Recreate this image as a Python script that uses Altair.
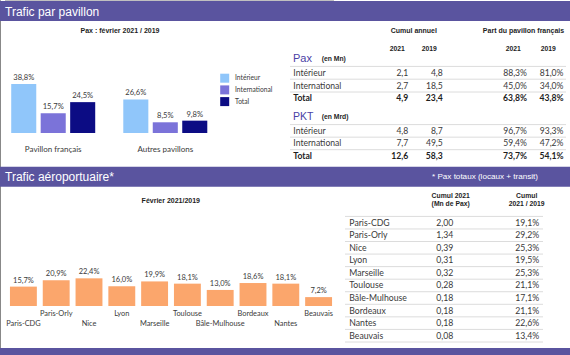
import altair as alt
import pandas as pd

# ---------------- data ----------------
pav_groups = ["Pavillon français", "Autres pavillons"]
pav_types = ["Intérieur", "International", "Total"]
pav_francais = [38.8, 15.7, 24.5]
pav_autres = [26.6, 8.5, 9.8]

tbl_rows = ["Intérieur", "International", "Total"]
pax_2021 = [2.1, 2.7, 4.9]
pax_2019 = [4.8, 18.5, 23.4]
pax_part_2021 = [88.3, 45.0, 63.8]
pax_part_2019 = [81.0, 34.0, 43.8]
pkt_2021 = [4.8, 7.7, 12.6]
pkt_2019 = [8.7, 49.5, 58.3]
pkt_part_2021 = [96.7, 59.4, 73.7]
pkt_part_2019 = [93.3, 47.2, 54.1]

airports = ["Paris-CDG", "Paris-Orly", "Nice", "Lyon", "Marseille", "Toulouse",
            "Bâle-Mulhouse", "Bordeaux", "Nantes", "Beauvais"]
fev_ratio = [15.7, 20.9, 22.4, 16.0, 19.9, 18.1, 13.0, 18.6, 18.1, 7.2]
cumul_2021 = [2.00, 1.34, 0.39, 0.31, 0.32, 0.28, 0.18, 0.18, 0.18, 0.08]
cumul_ratio = [19.1, 29.2, 25.3, 19.5, 25.3, 21.1, 17.1, 21.1, 22.6, 13.4]

# ---------------- styles ----------------
PURPLE = "#5a549f"
PAX_COL = "#4a3fa6"
TXT = "#3a3a3a"
HEAD = "#1e1e1e"
LINE = "#dcdcdc"
BODY = "Lato"
ARIAL = "Liberation Sans"
TYPE_COLORS = ["#90c6fa", "#7b73d9", "#0c0c84"]
ORANGE = "#fba66c"

ONE = pd.DataFrame({"k": [0]})


def label(text, x, y, size=8, weight="normal", color=TXT, font=BODY,
          align="left", baseline="middle"):
    return alt.Chart(ONE).mark_text(
        text=text, fontSize=size, fontWeight=weight, color=color, font=font,
        align=align, baseline=baseline
    ).encode(x=alt.value(x), y=alt.value(y))


def band(y0, y1):
    return alt.Chart(ONE).mark_rect(color=PURPLE).encode(
        x=alt.value(0), x2=alt.value(570), y=alt.value(y0), y2=alt.value(y1))


def fmt_expr(field, dec, suffix=""):
    return f"replace(format(datum['{field}'], '.{dec}f'), '.', ',') + '{suffix}'"


# ---------------- top grouped bars ----------------
pav_df = pd.DataFrame(
    [{"groupe": g, "type": t, "v": v}
     for g, vals in zip(pav_groups, [pav_francais, pav_autres])
     for t, v in zip(pav_types, vals)]
)
xg = alt.X("groupe:N", axis=None,
           scale=alt.Scale(domain=pav_groups, range=[9, 209.5],
                           paddingInner=0.211, paddingOuter=0))
xo = alt.XOffset("type:N",
                 scale=alt.Scale(domain=pav_types, paddingInner=0.15, paddingOuter=0.075))
yv = alt.Y("v:Q", axis=None, scale=alt.Scale(domain=[0, 40], range=[133, 82.6]))
col = alt.Color("type:N", legend=None,
                scale=alt.Scale(domain=pav_types, range=TYPE_COLORS))

pav_bars = alt.Chart(pav_df).mark_bar().encode(x=xg, xOffset=xo, y=yv, color=col)
pav_lbl = alt.Chart(pav_df).transform_calculate(lbl=fmt_expr("v", 1, "%")).mark_text(
    baseline="bottom", dy=-2, fontSize=7.6, font=BODY, color=TXT
).encode(x=xg, xOffset=xo, y=yv, text="lbl:N")
pav_cat = alt.Chart(pd.DataFrame({"groupe": pav_groups})).mark_text(
    fontSize=8, font=BODY, color=TXT, baseline="middle"
).encode(x=xg, y=alt.value(150), text="groupe:N")
pav_chart = alt.layer(pav_bars, pav_lbl, pav_cat)

# legend
leg_df = pd.DataFrame({"type": pav_types})
leg_y = alt.Y("type:N", axis=None,
              scale=alt.Scale(type="point", domain=pav_types, range=[78.2, 101.6], padding=0))
leg_sq = alt.Chart(leg_df).mark_square(size=81, opacity=1).encode(
    x=alt.value(224.7), y=leg_y, color=col)
leg_tx = alt.Chart(leg_df).mark_text(
    align="left", baseline="middle", fontSize=6.7, font=BODY, color=TXT
).encode(x=alt.value(235), y=leg_y, text="type:N")
leg_chart = alt.layer(leg_sq, leg_tx)


# ---------------- top-right table ----------------
def block(values, y_range):
    df = pd.DataFrame({"ligne": tbl_rows, "a21": values[0], "a19": values[1],
                       "p21": values[2], "p19": values[3]})
    ye = alt.Y("ligne:N", axis=None,
               scale=alt.Scale(type="point", domain=tbl_rows, range=y_range, padding=0))
    base = alt.Chart(df)
    layers = [base.mark_rule(color=LINE, strokeWidth=1, yOffset=-6.3).encode(
        y=ye, x=alt.value(290), x2=alt.value(566))]
    cols = [("a21", 408.3, 1, ""), ("a19", 442.8, 1, ""),
            ("p21", 527, 1, "%"), ("p19", 563.5, 1, "%")]
    for bold in (False, True):
        flt = "datum.ligne == 'Total'" if bold else "datum.ligne != 'Total'"
        w = "bold" if bold else "normal"
        c = HEAD if bold else TXT
        layers.append(base.transform_filter(flt).mark_text(
            align="left", baseline="middle", fontSize=8.6, font=BODY,
            fontWeight=w, color=c).encode(x=alt.value(293.3), y=ye, text="ligne:N"))
        for f, x, d, s in cols:
            layers.append(base.transform_filter(flt).transform_calculate(
                t=fmt_expr(f, d, s)).mark_text(
                align="right", baseline="middle", fontSize=8.6, font=BODY,
                fontWeight=w, color=c).encode(x=alt.value(x), y=ye, text="t:N"))
    return alt.layer(*layers)


pax_block = block([pax_2021, pax_2019, pax_part_2021, pax_part_2019], [72.7, 98.3])
pkt_block = block([pkt_2021, pkt_2019, pkt_part_2021, pkt_part_2019], [130.9, 156])

# ---------------- airport bars ----------------
ap_df = pd.DataFrame({"aeroport": airports, "v": fev_ratio,
                      "niveau": [i % 2 for i in range(len(airports))]})
xa = alt.X("aeroport:N", axis=None, sort=airports,
           scale=alt.Scale(domain=airports, range=[7, 335],
                           paddingInner=0.18, paddingOuter=0.09))
ya = alt.Y("v:Q", axis=None, scale=alt.Scale(domain=[0, 40], range=[306, 256.6]))
ap_base = alt.Chart(ap_df)
ap_bars = ap_base.mark_bar(color=ORANGE).encode(x=xa, y=ya)
ap_lbl = ap_base.transform_calculate(lbl=fmt_expr("v", 1, "%")).mark_text(
    baseline="bottom", dy=-2, fontSize=7.5, font=BODY, color=TXT
).encode(x=xa, y=ya, text="lbl:N")
ap_axis = ap_base.mark_rule(color="#bfbfbf", strokeWidth=1).encode(
    x=alt.value(5), x2=alt.value(334), y=alt.datum(0))
ap_names = ap_base.mark_text(
    baseline="middle", fontSize=7.4, font=BODY, color=TXT
).encode(x=xa,
         y=alt.Y("niveau:O", axis=None,
                 scale=alt.Scale(type="point", domain=[0, 1], range=[324.2, 314.2], padding=0)),
         text="aeroport:N")
ap_chart = alt.layer(ap_bars, ap_axis, ap_lbl, ap_names)

# ---------------- airport table ----------------
at_df = pd.DataFrame({"aeroport": airports, "c21": cumul_2021, "r": cumul_ratio})
yt = alt.Y("aeroport:N", axis=None, sort=airports,
           scale=alt.Scale(type="point", domain=airports, range=[222.7, 335.7], padding=0))
at_base = alt.Chart(at_df)
at_chart = alt.layer(
    at_base.mark_rule(color=LINE, strokeWidth=1, yOffset=-6.3).encode(
        y=yt, x=alt.value(345), x2=alt.value(543)),
    at_base.transform_filter(f"datum.aeroport == '{airports[-1]}'").mark_rule(
        color=LINE, strokeWidth=1, yOffset=6.3).encode(
        y=yt, x=alt.value(345), x2=alt.value(543)),
    at_base.mark_text(align="left", baseline="middle", fontSize=8.7, font=BODY,
                      color=TXT).encode(x=alt.value(349.3), y=yt, text="aeroport:N"),
    at_base.transform_calculate(t=fmt_expr("c21", 2)).mark_text(
        align="right", baseline="middle", fontSize=8.7, font=BODY, color=TXT
    ).encode(x=alt.value(453.3), y=yt, text="t:N"),
    at_base.transform_calculate(t=fmt_expr("r", 1, "%")).mark_text(
        align="right", baseline="middle", fontSize=8.7, font=BODY, color=TXT
    ).encode(x=alt.value(539.3), y=yt, text="t:N"),
)

# ---------------- static texts ----------------
texts = [
    band(1, 21), band(166.7, 186.7), band(348, 355),
    label("Trafic par pavillon", 5, 11.5, 12, color="white", font=ARIAL),
    label("Trafic aéroportuaire*", 5, 177, 12, color="white", font=ARIAL),
    label("* Pax totaux (locaux + transit)", 485, 177, 8.1, color="white",
          font=ARIAL, align="center"),
    label("Pax : février 2021 / 2019", 120, 30.7, 7, "bold", HEAD, ARIAL, "center"),
    label("Cumul annuel", 413.8, 30.7, 7, "bold", HEAD, ARIAL, "center"),
    label("Part du pavillon français", 523.5, 30.7, 7, "bold", HEAD, ARIAL, "center"),
    label("2021", 397.3, 49, 6.8, "bold", HEAD, ARIAL, "center"),
    label("2019", 429.3, 49, 6.8, "bold", HEAD, ARIAL, "center"),
    label("2021", 513.3, 49, 6.8, "bold", HEAD, ARIAL, "center"),
    label("2019", 548.3, 49, 6.8, "bold", HEAD, ARIAL, "center"),
    label("Pax", 293, 58.5, 11, color=PAX_COL, font=ARIAL),
    label("(en Mn)", 321.7, 58.5, 6.8, "bold", HEAD, ARIAL),
    label("PKT", 293, 117, 10.5, color=PAX_COL, font=ARIAL),
    label("(en Mrd)", 321.7, 117, 6.8, "bold", HEAD, ARIAL),
    label("Février 2021/2019", 170.8, 200.7, 7, "bold", HEAD, ARIAL, "center"),
    label("Cumul 2021", 450.7, 195.7, 6.8, "bold", HEAD, ARIAL, "center"),
    label("(Mn de Pax)", 450.7, 204.2, 6.8, "bold", HEAD, ARIAL, "center"),
    label("Cumul", 526.7, 195.7, 6.8, "bold", HEAD, ARIAL, "center"),
    label("2021 / 2019", 526.7, 204.2, 6.8, "bold", HEAD, ARIAL, "center"),
]

chart = alt.layer(
    *texts, pav_chart, leg_chart, pax_block, pkt_block, ap_chart, at_chart
).resolve_scale(
    x="independent", y="independent", color="independent", xOffset="independent"
).properties(
    width=570, height=355, padding=0, autosize=alt.AutoSizeParams(type="none"),
    background="white"
).configure_view(stroke=None)

chart.save("out.html", embed_options={"renderer": "svg", "actions": False})
